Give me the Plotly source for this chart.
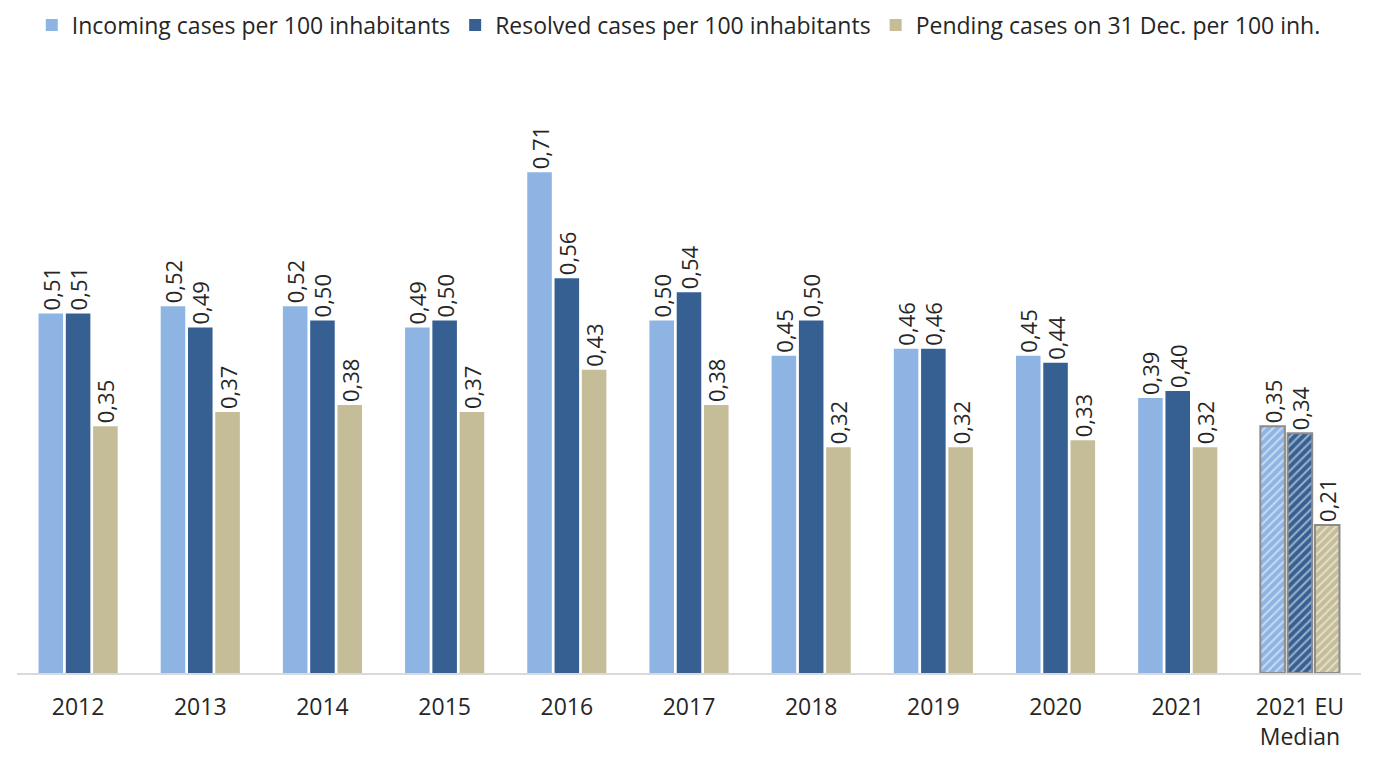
import plotly.graph_objects as go

categories = ["2012", "2013", "2014", "2015", "2016", "2017", "2018", "2019", "2020", "2021", "2021 EU<br>Median"]
incoming = [0.51, 0.52, 0.52, 0.49, 0.71, 0.50, 0.45, 0.46, 0.45, 0.39, 0.35]
resolved = [0.51, 0.49, 0.50, 0.50, 0.56, 0.54, 0.50, 0.46, 0.44, 0.40, 0.34]
pending = [0.35, 0.37, 0.38, 0.37, 0.43, 0.38, 0.32, 0.32, 0.33, 0.32, 0.21]

series = [
    ("Incoming cases per 100 inhabitants", incoming, "#8EB4E3"),
    ("Resolved cases per 100 inhabitants", resolved, "#366092"),
    ("Pending cases on 31 Dec. per 100 inh.", pending, "#C4BD97"),
]

n = len(categories)
fig = go.Figure()
for name, vals, col in series:
    fig.add_trace(go.Bar(
        name=name, x=categories, y=vals,
        marker=dict(
            color=col,
            line=dict(color=["rgba(0,0,0,0)"] * (n - 1) + ["#8C8C8C"], width=[0] * (n - 1) + [2]),
            pattern=dict(shape=[""] * (n - 1) + ["/"], fillmode="overlay", fgcolor="white",
                         size=6, solidity=0.35),
        ),
        text=vals, texttemplate="%{y:.2f}", textposition="outside", textangle=-90,
        textfont=dict(size=22, color="#262626"), cliponaxis=False,
    ))

fig.update_layout(
    width=1371, height=749,
    margin=dict(l=9, r=18, t=115, b=84, autoexpand=False),
    paper_bgcolor="white", plot_bgcolor="white",
    font=dict(family="Open Sans", size=23, color="#262626"),
    separators=",.",
    barmode="group", bargap=0.33, bargroupgap=0.1,
    showlegend=True,
    legend=dict(orientation="h", x=0.011, y=1.178, xanchor="left", yanchor="middle",
                yref="paper", font=dict(size=23, color="#262626"), itemsizing="constant"),
    uniformtext=dict(minsize=22, mode="show"),
)
fig.update_xaxes(showline=True, linecolor="#D9D9D9", linewidth=2, ticks="outside", ticklen=12,
                 tickcolor="rgba(0,0,0,0)", tickfont=dict(size=23, color="#262626"))
fig.update_yaxes(range=[0, 0.78], showticklabels=False, showgrid=False, zeroline=False)

fig.write_html("out.html")
